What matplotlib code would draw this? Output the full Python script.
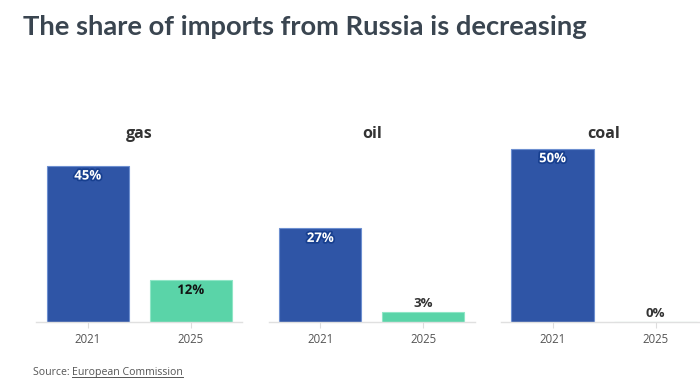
import matplotlib.pyplot as plt
import matplotlib.patheffects as pe
from matplotlib.lines import Line2D

# data
fuels = ['gas', 'oil', 'coal']
years = ['2021', '2025']
share_2021 = [45, 27, 50]
share_2025 = [12, 3, 0]

blue = '#2f55a6'
green = '#5ad4a8'
dark = '#3a4550'

plt.rcParams['font.family'] = ['Open Sans', 'DejaVu Sans']

fig = plt.figure(figsize=(7, 3.91), dpi=100)
fig.patch.set_facecolor('white')

fig.text(0.033, 0.93, 'The share of imports from Russia is decreasing',
         fontsize=19.7, fontweight='bold', color=dark, family=['Lato', 'DejaVu Sans'],
         va='center', ha='left')

lefts = [0.052, 0.384, 0.716]
for i, fuel in enumerate(fuels):
    ax = fig.add_axes([lefts[i], 0.1765, 0.294, 0.532])
    vals = [share_2021[i], share_2025[i]]
    ax.bar([0, 1], vals, width=0.8, color=[blue, green],
           edgecolor=['#6d8fd0', '#8fe6c6'], linewidth=0.8, zorder=2)
    ax.set_xlim(-0.5, 1.5)
    ax.set_ylim(0, 60)
    ax.set_xticks([0, 1])
    ax.set_xticklabels(years, fontsize=8.3, color='#555555')
    ax.tick_params(axis='x', length=4, color='#dddddd', pad=4)
    ax.set_yticks([])
    for s in ['top', 'right', 'left']:
        ax.spines[s].set_visible(False)
    ax.spines['bottom'].set_color('#e0e0e0')
    ax.spines['bottom'].set_linewidth(1.0)
    ax.set_title(fuel, fontsize=11.5, fontweight='bold', color='#333333', pad=0, y=0.885)

    for j, v in enumerate(vals):
        lab = f'{v}%'
        if v >= 8:
            if j == 0:
                col, stroke = 'white', '#173f8f'
            else:
                col, stroke = '#111111', green
            ax.text(j, v - 2.9, lab, ha='center', va='center', fontsize=9.5,
                    fontweight='bold', color=col, zorder=3,
                    path_effects=[pe.withStroke(linewidth=2.5, foreground=stroke)])
        else:
            ax.text(j, v + 0.6, lab, ha='center', va='bottom', fontsize=9.5,
                    fontweight='bold', color='#333333', zorder=3)

src1 = fig.text(0.047, 0.048, 'Source: ', fontsize=7.6, color='#555555', va='center')
fig.canvas.draw()
r = fig.canvas.get_renderer()
bb = src1.get_window_extent(r)
x1 = bb.x1 / fig.bbox.width
src2 = fig.text(x1, 0.048, 'European Commission', fontsize=7.6, color='#555555', va='center')
bb2 = src2.get_window_extent(r)
yline = (bb2.y0 + 1) / fig.bbox.height
fig.add_artist(Line2D([bb2.x0 / fig.bbox.width, bb2.x1 / fig.bbox.width], [yline, yline],
                      color='#555555', linewidth=0.7, transform=fig.transFigure))

fig.savefig('out.png', dpi=100)
